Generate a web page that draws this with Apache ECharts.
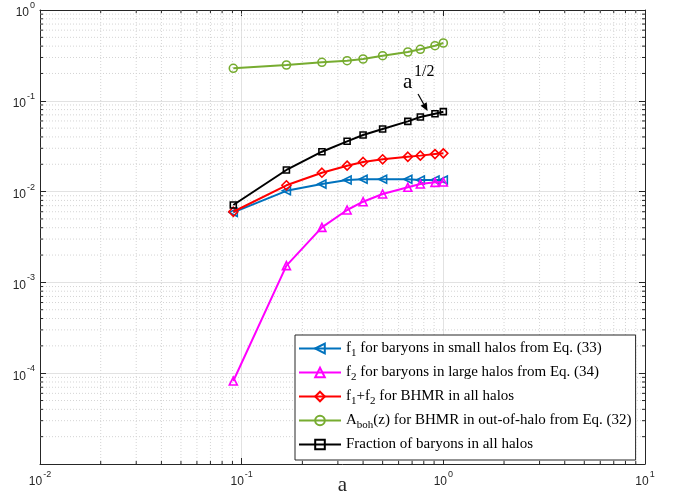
<!DOCTYPE html>
<html>
<head>
<meta charset="utf-8">
<script src="https://cdn.jsdelivr.net/npm/echarts@6/dist/echarts.min.js"></script>
<style>html,body{margin:0;padding:0;background:#fff;}#c{width:675px;height:500px;}</style>
</head>
<body>
<div id="c"></div>
<script>
// ---- data ----
const aValues = [0.0909, 0.1667, 0.25, 0.3333, 0.4, 0.5, 0.6667, 0.7692, 0.9091, 1.0];
const f1Small = [0.0059, 0.0102, 0.0121, 0.0134, 0.0137, 0.0137, 0.0137, 0.0134, 0.0134, 0.0134];
const f2Large = [8.2e-5, 1.53e-3, 4.04e-3, 6.27e-3, 7.74e-3, 9.41e-3, 0.01116, 0.01213, 0.01265, 0.01276];
const f1PlusF2 = [0.0060, 0.01173, 0.01615, 0.0193, 0.0212, 0.0227, 0.0242, 0.0249, 0.0259, 0.0264];
const abohOut = [0.228, 0.248, 0.2655, 0.2765, 0.2886, 0.314, 0.3446, 0.369, 0.4044, 0.433];
const fracAll = [0.00712, 0.0173, 0.0275, 0.0358, 0.042, 0.0489, 0.0594, 0.0663, 0.0721, 0.0759];
const seriesNames = [
  'f1 for baryons in small halos from Eq. (33)',
  'f2 for baryons in large halos from Eq. (34)',
  'f1+f2 for BHMR in all halos',
  'Aboh(z) for BHMR in out-of-halo from Eq. (32)',
  'Fraction of baryons in all halos'
];
const legendRich = [
  '{n|f}{sub|1}{n| for baryons in small halos from Eq. (33)}',
  '{n|f}{sub|2}{n| for baryons in large halos from Eq. (34)}',
  '{n|f}{sub|1}{n|+f}{sub|2}{n| for BHMR in all halos}',
  '{n|A}{sub|boh}{n|(z) for BHMR in out-of-halo from Eq. (32)}',
  '{n|Fraction of baryons in all halos}'
];
const xMin = 0.01, xMax = 10, yMin = 1e-5, yMax = 1;
const xMinor = [];
for (let d = -2; d < 1; d++) for (let k = 2; k <= 9; k++) xMinor.push(k * Math.pow(10, d));
const yMinor = [];
for (let d = -5; d < 0; d++) for (let k = 2; k <= 9; k++) yMinor.push(k * Math.pow(10, d));
// annotation arrow and text anchor (data coords)
const arrowFrom = [0.749, 0.119];
const arrowTo = [0.835, 0.0772];
const annotPos = [0.631, 0.1383];

const colors = ['#0072BD', '#FF00FF', '#FF0000', '#77AC30', '#000000'];
const symbols = ['triangle', 'triangle', 'diamond', 'circle', 'rect'];
const symRot = [90, 0, 0, 0, 0];
const symSize = [8, 8, 9, 8, 6];
const vals = [f1Small, f2Large, f1PlusF2, abohOut, fracAll];

const chart = echarts.init(document.getElementById('c'), null, {renderer: 'canvas'});

function powLabel(v) {
  const e = Math.round(Math.log10(v));
  if (e === -5) return '';
  return '{b|10}{s|' + e + '}';
}
const axisRich = {
  b: {fontFamily: 'Liberation Sans', fontSize: 12, color: '#262626', lineHeight: 18, verticalAlign: 'bottom'},
  s: {fontFamily: 'Liberation Sans', fontSize: 9, color: '#262626', verticalAlign: 'top', padding: [0,0,0,1]}
};

const dataSeries = vals.map((arr, i) => ({
  name: seriesNames[i],
  type: 'line',
  xAxisIndex: 0, yAxisIndex: 0,
  data: aValues.map((a, j) => [a, arr[j]]),
  symbol: symbols[i],
  symbolRotate: symRot[i],
  symbolSize: symSize[i],
  showAllSymbol: true,
  lineStyle: {color: colors[i], width: 2},
  itemStyle: {color: 'rgba(255,255,255,0)', borderColor: colors[i], borderWidth: 1.6},
  z: 5 + i,
  animation: false
}));

function minorRender(isX) {
  return function (params, api) {
    const v = api.value(isX ? 0 : 1);
    let p0, p1;
    if (isX) { p0 = api.coord([v, yMin]); p1 = api.coord([v, yMax]); }
    else { p0 = api.coord([xMin, v]); p1 = api.coord([xMax, v]); }
    const grid = {type: 'line', shape: {x1: p0[0], y1: p0[1], x2: p1[0], y2: p1[1]},
      style: {stroke: '#d4d4d4', lineWidth: 1, lineDash: [1, 2]}};
    let t1, t2;
    if (isX) {
      t1 = {type: 'line', shape: {x1: p0[0], y1: p0[1], x2: p0[0], y2: p0[1] - 3}, style: {stroke: '#262626', lineWidth: 1}};
      t2 = {type: 'line', shape: {x1: p1[0], y1: p1[1], x2: p1[0], y2: p1[1] + 3}, style: {stroke: '#262626', lineWidth: 1}};
    } else {
      t1 = {type: 'line', shape: {x1: p0[0], y1: p0[1], x2: p0[0] + 3, y2: p0[1]}, style: {stroke: '#262626', lineWidth: 1}};
      t2 = {type: 'line', shape: {x1: p1[0], y1: p1[1], x2: p1[0] - 3, y2: p1[1]}, style: {stroke: '#262626', lineWidth: 1}};
    }
    return {type: 'group', children: [grid, t1, t2]};
  };
}

const option = {
  backgroundColor: '#ffffff',
  animation: false,
  grid: {left: 40, right: 30, top: 10, bottom: 36, containLabel: false, outerBoundsMode: 'none'},
  xAxis: [{
    type: 'log', min: xMin, max: xMax, logBase: 10,
    name: 'a', nameLocation: 'middle', nameGap: 11, nameMoveOverlap: false,
    nameTextStyle: {fontFamily: 'Liberation Serif', fontSize: 21, color: '#262626'},
    axisLine: {lineStyle: {color: '#262626', width: 1}},
    axisTick: {inside: true, length: 6, lineStyle: {color: '#262626'}},
    axisLabel: {formatter: powLabel, rich: axisRich, margin: 6},
    splitLine: {show: true, lineStyle: {color: '#e2e2e2', width: 1}}
  }, {
    type: 'log', min: xMin, max: xMax, logBase: 10, position: 'top',
    axisLine: {lineStyle: {color: '#262626', width: 1}},
    axisTick: {inside: true, length: 6, lineStyle: {color: '#262626'}},
    axisLabel: {show: false}, splitLine: {show: false}
  }],
  yAxis: [{
    type: 'log', min: yMin, max: yMax, logBase: 10,
    axisLine: {show: true, lineStyle: {color: '#262626', width: 1}},
    axisTick: {show: true, inside: true, length: 6, lineStyle: {color: '#262626'}},
    axisLabel: {formatter: powLabel, rich: axisRich, margin: 5},
    splitLine: {show: true, lineStyle: {color: '#e2e2e2', width: 1}}
  }, {
    type: 'log', min: yMin, max: yMax, logBase: 10, position: 'right',
    axisLine: {show: true, lineStyle: {color: '#262626', width: 1}},
    axisTick: {show: true, inside: true, length: 6, lineStyle: {color: '#262626'}},
    axisLabel: {show: false}, splitLine: {show: false}
  }],
  legend: {
    data: seriesNames,
    orient: 'vertical',
    left: 295, top: 335,
    padding: [6, 4, 8, 3],
    itemGap: 6.5,
    itemWidth: 42, itemHeight: 12,
    backgroundColor: '#ffffff',
    borderColor: '#262626', borderWidth: 1, borderRadius: 0,
    formatter: function (name) { return legendRich[seriesNames.indexOf(name)]; },
    textStyle: {
      fontFamily: 'Liberation Serif', fontSize: 15, color: '#000',
      rich: {
        n: {fontFamily: 'Liberation Serif', fontSize: 15, color: '#000', lineHeight: 20},
        sub: {fontFamily: 'Liberation Serif', fontSize: 11, color: '#000', verticalAlign: 'bottom'}
      }
    }
  },
  series: [
    {type: 'custom', name: 'xminor', xAxisIndex: 0, yAxisIndex: 0, silent: true, z: 1,
      data: xMinor.map(v => [v, yMin]), renderItem: minorRender(true), clip: false},
    {type: 'custom', name: 'yminor', xAxisIndex: 0, yAxisIndex: 0, silent: true, z: 1,
      data: yMinor.map(v => [xMin, v]), renderItem: minorRender(false), clip: false}
  ].concat(dataSeries)
};
chart.setOption(option);

// annotation a^{1/2} with arrow, positioned through the axes
const pf = chart.convertToPixel({gridIndex: 0}, arrowFrom);
const pt = chart.convertToPixel({gridIndex: 0}, arrowTo);
const pa = chart.convertToPixel({gridIndex: 0}, annotPos);
const ang = Math.atan2(pt[1] - pf[1], pt[0] - pf[0]);
const hl = 8, hw = 3.5;
const bx = pt[0] - hl * Math.cos(ang), by = pt[1] - hl * Math.sin(ang);
const nx = -Math.sin(ang), ny = Math.cos(ang);
chart.setOption({
  graphic: [
    {type: 'line', shape: {x1: pf[0], y1: pf[1], x2: bx, y2: by}, style: {stroke: '#000', lineWidth: 1.2}, z: 100},
    {type: 'polygon', shape: {points: [[pt[0], pt[1]], [bx + nx * hw, by + ny * hw], [bx - nx * hw, by - ny * hw]]},
      style: {fill: '#000'}, z: 100},
    {type: 'text', x: pa[0], y: pa[1] + 5, z: 100,
      style: {text: 'a', fontFamily: 'Liberation Serif', fontSize: 21, fill: '#000', verticalAlign: 'bottom'}},
    {type: 'text', x: pa[0] + 11, y: pa[1] - 8, z: 100,
      style: {text: '1/2', fontFamily: 'Liberation Serif', fontSize: 16, fill: '#000', verticalAlign: 'bottom'}}
  ]
});
</script>
</body>
</html>
